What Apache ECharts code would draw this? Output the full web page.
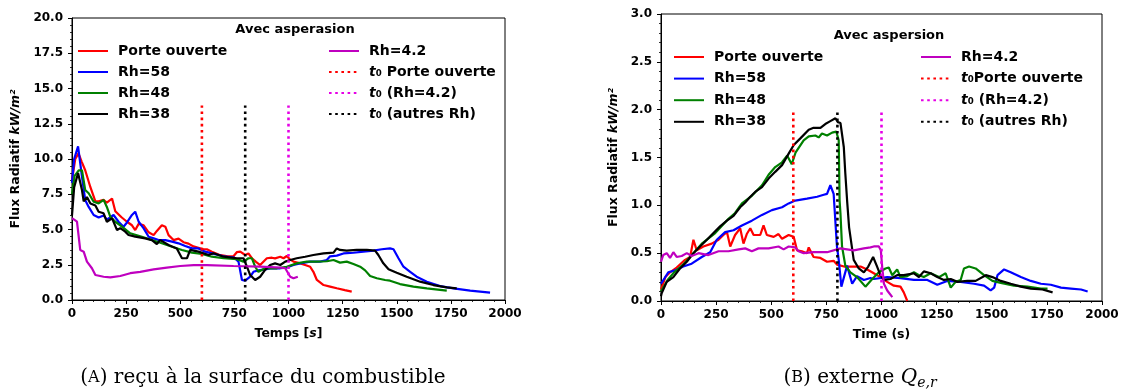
<!DOCTYPE html>
<html><head><meta charset="utf-8">
<script src="https://cdn.jsdelivr.net/npm/echarts@6/dist/echarts.min.js"></script>
<style>html,body{margin:0;padding:0;background:#fff;width:1123px;height:392px;overflow:hidden}
#a{position:absolute;left:0;top:0;width:561px;height:392px}
#b{position:absolute;left:561px;top:0;width:562px;height:392px}</style>
</head><body><div id="a"></div><div id="b"></div>
<script>
// ---------- data (time s, flux kW/m2) ----------
const A_porte = [[0,8.5],[15,10.0],[30,10.4],[45,9.8],[61,9.2],[85,8.0],[108,7.0],[123,7.0],[146,7.1],[161,6.9],[185,7.2],[200,6.3],[230,5.85],[254,5.55],[277,5.3],[292,4.96],[308,5.4],[331,5.3],[354,4.8],[377,4.6],[392,4.9],[415,5.3],[431,5.2],[446,4.6],[469,4.25],[492,4.35],[515,4.1],[538,4.0],[561,3.8],[584,3.7],[607,3.6],[623,3.6],[646,3.43],[680,3.2],[720,3.1],[746,3.1],[762,3.4],[777,3.43],[800,3.19],[815,3.3],[831,2.96],[850,2.7],[869,2.48],[900,2.96],[923,3.0],[938,2.95],[962,3.07],[977,2.96],[992,3.12],[1005,2.9],[1023,2.72],[1054,2.6],[1077,2.48],[1100,2.36],[1115,2.0],[1131,1.42],[1162,1.06],[1192,0.95],[1223,0.83],[1260,0.7],[1292,0.59]];
const A_rh58 = [[0,8.3],[10,10.0],[28,10.9],[46,8.75],[61,7.1],[77,6.6],[100,6.03],[123,5.85],[146,6.0],[161,5.7],[192,6.03],[215,5.55],[238,5.2],[254,5.5],[277,6.03],[292,6.26],[308,5.55],[331,5.08],[354,4.49],[377,4.37],[400,4.25],[431,4.25],[462,4.14],[492,4.02],[523,3.83],[554,3.66],[584,3.66],[615,3.43],[646,3.31],[700,3.1],[750,3.0],[769,2.72],[777,2.6],[785,1.42],[800,1.37],[823,1.65],[838,2.0],[861,2.1],[892,2.17],[923,2.25],[962,2.25],[992,2.3],[1023,2.48],[1054,2.6],[1100,2.72],[1146,2.72],[1177,2.84],[1192,3.1],[1223,3.15],[1254,3.3],[1300,3.35],[1346,3.43],[1392,3.5],[1431,3.6],[1469,3.66],[1485,3.6],[1508,2.96],[1531,2.36],[1562,2.0],[1592,1.65],[1639,1.3],[1700,0.99],[1762,0.83],[1839,0.66],[1931,0.52]];
const A_rh48 = [[0,7.5],[12,8.8],[31,9.2],[46,9.2],[61,7.8],[77,7.57],[100,6.97],[123,6.85],[146,7.1],[161,6.6],[177,5.9],[200,5.55],[231,5.2],[269,4.73],[323,4.49],[369,4.25],[415,4.02],[462,3.78],[508,3.55],[554,3.36],[600,3.26],[646,3.07],[700,2.96],[762,2.9],[792,2.72],[815,2.96],[831,2.96],[846,2.36],[861,2.0],[885,2.2],[915,2.25],[946,2.25],[992,2.36],[1038,2.6],[1085,2.72],[1131,2.72],[1177,2.75],[1208,2.84],[1238,2.65],[1269,2.72],[1300,2.55],[1331,2.36],[1354,2.1],[1377,1.7],[1408,1.54],[1446,1.42],[1469,1.37],[1515,1.13],[1577,0.95],[1639,0.83],[1731,0.66]];
const A_rh38 = [[0,6.0],[10,8.0],[28,9.0],[46,7.8],[54,7.0],[69,7.3],[85,6.85],[108,6.7],[123,6.26],[146,6.15],[161,5.55],[185,5.8],[208,4.96],[223,5.1],[246,4.85],[261,4.61],[292,4.49],[338,4.37],[369,4.25],[392,3.97],[408,4.25],[446,3.9],[484,3.66],[508,2.96],[531,2.96],[546,3.55],[584,3.43],[631,3.19],[654,3.31],[700,3.07],[762,2.96],[792,2.96],[808,2.36],[823,1.77],[846,1.42],[869,1.65],[892,2.13],[915,2.48],[938,2.6],[962,2.48],[985,2.72],[1008,2.84],[1038,2.96],[1077,3.07],[1115,3.19],[1162,3.31],[1208,3.36],[1223,3.66],[1238,3.55],[1269,3.5],[1315,3.55],[1362,3.55],[1400,3.5],[1415,3.19],[1438,2.6],[1462,2.18],[1500,1.94],[1546,1.65],[1608,1.3],[1669,1.06],[1731,0.9],[1777,0.83]];
const A_rh42 = [[0,5.8],[10,5.7],[23,5.55],[38,3.55],[54,3.43],[69,2.72],[92,2.25],[108,1.77],[146,1.65],[177,1.6],[223,1.7],[269,1.9],[315,2.0],[377,2.17],[438,2.3],[500,2.41],[562,2.48],[623,2.48],[746,2.41],[869,2.36],[962,2.3],[985,2.25],[1008,1.65],[1023,1.54],[1043,1.65]];

const B_porte = [[0,0.12],[20,0.25],[41,0.3],[71,0.35],[109,0.43],[132,0.46],[147,0.64],[162,0.53],[192,0.57],[230,0.6],[261,0.64],[283,0.69],[299,0.72],[314,0.57],[336,0.69],[359,0.76],[374,0.6],[389,0.7],[405,0.76],[420,0.69],[450,0.69],[465,0.79],[480,0.69],[511,0.67],[533,0.7],[549,0.65],[579,0.69],[602,0.67],[617,0.53],[639,0.52],[662,0.5],[670,0.56],[692,0.46],[723,0.45],[753,0.41],[783,0.42],[798,0.38],[830,0.36],[905,0.36],[935,0.33],[965,0.29],[995,0.25],[1026,0.2],[1056,0.16],[1086,0.15],[1101,0.09],[1117,0.0]];
const B_rh58 = [[0,0.18],[33,0.3],[64,0.32],[101,0.36],[139,0.39],[185,0.46],[223,0.51],[253,0.64],[291,0.72],[329,0.74],[367,0.79],[412,0.84],[458,0.9],[503,0.95],[549,0.98],[579,1.02],[609,1.05],[662,1.07],[708,1.09],[738,1.11],[753,1.12],[768,1.21],[783,1.12],[798,0.57],[806,0.43],[818,0.15],[844,0.37],[867,0.18],[889,0.26],[920,0.22],[950,0.24],[965,0.23],[1026,0.25],[1086,0.24],[1147,0.22],[1208,0.22],[1253,0.17],[1298,0.21],[1359,0.2],[1420,0.18],[1465,0.16],[1495,0.11],[1511,0.14],[1526,0.27],[1556,0.33],[1586,0.3],[1632,0.25],[1677,0.21],[1723,0.18],[1768,0.17],[1814,0.14],[1859,0.13],[1905,0.12],[1935,0.1]];
const B_rh48 = [[0,0.1],[30,0.22],[60,0.3],[100,0.38],[140,0.48],[185,0.6],[246,0.71],[306,0.86],[336,0.92],[367,1.02],[412,1.1],[458,1.21],[488,1.32],[518,1.4],[549,1.45],[572,1.52],[593,1.43],[610,1.55],[647,1.68],[670,1.72],[700,1.73],[715,1.71],[730,1.75],[753,1.73],[776,1.76],[795,1.77],[806,1.68],[810,1.05],[814,0.91],[821,0.57],[836,0.37],[859,0.3],[889,0.25],[927,0.15],[958,0.23],[988,0.3],[1018,0.34],[1033,0.35],[1049,0.27],[1071,0.33],[1086,0.25],[1117,0.26],[1147,0.3],[1170,0.27],[1192,0.25],[1223,0.29],[1261,0.25],[1291,0.29],[1314,0.14],[1336,0.2],[1359,0.22],[1374,0.34],[1397,0.36],[1427,0.34],[1465,0.27],[1503,0.21],[1541,0.19],[1601,0.16],[1662,0.15],[1723,0.13],[1753,0.13]];
const B_rh38 = [[0,0.05],[3,0.08],[26,0.2],[56,0.25],[86,0.34],[117,0.41],[147,0.5],[177,0.57],[208,0.64],[238,0.71],[268,0.78],[299,0.84],[329,0.89],[359,0.98],[382,1.03],[405,1.09],[427,1.14],[458,1.19],[488,1.28],[518,1.35],[549,1.42],[579,1.54],[602,1.63],[632,1.7],[670,1.79],[692,1.81],[723,1.81],[745,1.85],[768,1.88],[791,1.91],[802,1.87],[814,1.86],[829,1.61],[836,1.33],[844,1.05],[853,0.77],[874,0.43],[897,0.34],[920,0.3],[940,0.36],[962,0.46],[980,0.36],[995,0.27],[1011,0.22],[1041,0.23],[1071,0.27],[1101,0.27],[1147,0.29],[1170,0.25],[1192,0.31],[1223,0.29],[1253,0.25],[1283,0.22],[1314,0.23],[1344,0.2],[1389,0.21],[1427,0.21],[1473,0.27],[1503,0.25],[1541,0.21],[1586,0.18],[1632,0.15],[1677,0.13],[1730,0.12],[1776,0.09]];
const B_rh42 = [[0,0.41],[10,0.48],[26,0.5],[41,0.45],[56,0.51],[71,0.46],[94,0.47],[117,0.5],[139,0.47],[170,0.5],[215,0.48],[261,0.52],[306,0.52],[352,0.54],[382,0.55],[412,0.52],[442,0.55],[488,0.55],[533,0.57],[556,0.54],[579,0.57],[609,0.56],[624,0.52],[647,0.5],[692,0.51],[753,0.51],[814,0.55],[874,0.53],[920,0.55],[950,0.56],[965,0.57],[988,0.57],[997,0.53],[1003,0.36],[1011,0.18],[1026,0.11],[1049,0.04]];

// t0 instants (s) and top of the vertical markers
const t0_porte = 600, t0_rh42 = 1000, t0_autres = 800;
const topA = 13.8, topB = 2.0;

const namesA = ['Porte ouverte','Rh=58','Rh=48','Rh=38','Rh=4.2','t0 Porte ouverte','t0 (Rh=4.2)','t0 (autres Rh)'];
const namesB = ['Porte ouverte','Rh=58','Rh=48','Rh=38','Rh=4.2','t0Porte ouverte','t0 (Rh=4.2)','t0 (autres Rh)'];

// ---------- styling ----------
const F = 'DejaVu Sans';
const SERIF = 'DejaVu Serif';
const COLORS = ['#ff0000','#0000ff','#008000','#000000','#bf00bf','#ff0000','#e600e6','#000000'];

function lineSeries(name, data, color){
  return {name, type:'line', data, symbol:'none', showSymbol:false, animation:false,
    lineStyle:{color, width:2.2}, itemStyle:{color}};
}
function vSeries(name, t, top, color){
  return {name, type:'line', data:[[t,0],[t,top]], symbol:'none', showSymbol:false, animation:false,
    lineStyle:{color, width:2.6, type:[2.6,3.6]}, itemStyle:{color}, z:3};
}
function legendFmt(n){
  if (n.startsWith('t0')) return '{it|t}{b|\u2080' + n.slice(2) + '}';
  return '{b|' + n + '}';
}
const legendRich = {
  b:{fontFamily:F, fontWeight:'bold', fontSize:14, color:'#000'},
  it:{fontFamily:F, fontWeight:'bold', fontStyle:'italic', fontSize:14, color:'#000'}
};
function legend(left, top, data, gap){
  return {left, top, orient:'vertical', itemWidth:30, itemHeight:14, itemGap:gap, data,
    formatter:legendFmt, selectedMode:false, itemStyle:{opacity:0, borderWidth:0},
    textStyle:{fontFamily:F, fontWeight:'bold', fontSize:14, color:'#000', lineHeight:14, padding:[0,0,0,5], rich:legendRich}};
}
function axisCommon(){
  return {
    axisLine:{show:true, lineStyle:{color:'#000', width:1}},
    axisTick:{show:true, inside:false, length:4, lineStyle:{color:'#000', width:1}},
    minorTick:{show:true, splitNumber:5, length:2, lineStyle:{color:'#000', width:0.8}},
    splitLine:{show:false},
    axisLabel:{fontFamily:F, fontWeight:'bold', fontSize:12, color:'#000', margin:8, formatter: v => String(v)}
  };
}
const nameRich = {
  b:{fontFamily:F, fontWeight:'bold', fontSize:12.5, color:'#000'},
  i:{fontFamily:F, fontWeight:'bold', fontStyle:'italic', fontSize:12.5, color:'#000'}
};
const capRich = {
  n:{fontFamily:SERIF, fontWeight:'normal', fontSize:20, color:'#000', lineHeight:24},
  sc:{fontFamily:SERIF, fontWeight:'normal', fontSize:16, color:'#000', lineHeight:24},
  q:{fontFamily:SERIF, fontWeight:'normal', fontStyle:'italic', fontSize:20, color:'#000', lineHeight:24},
  sub:{fontFamily:SERIF, fontWeight:'normal', fontStyle:'italic', fontSize:14, color:'#000', lineHeight:14, verticalAlign:'bottom'}
};

function buildOption(cfg){
  const s = [
    lineSeries(cfg.names[0], cfg.data[0], COLORS[0]),
    lineSeries(cfg.names[1], cfg.data[1], COLORS[1]),
    lineSeries(cfg.names[2], cfg.data[2], COLORS[2]),
    lineSeries(cfg.names[3], cfg.data[3], COLORS[3]),
    lineSeries(cfg.names[4], cfg.data[4], COLORS[4]),
    vSeries(cfg.names[5], t0_porte, cfg.top, COLORS[5]),
    vSeries(cfg.names[6], t0_rh42, cfg.top, COLORS[6]),
    vSeries(cfg.names[7], t0_autres, cfg.top, COLORS[7])
  ];
  const xa = Object.assign(axisCommon(), {type:'value', min:0, max:2000, interval:250,
    name:cfg.xname, nameLocation:'middle', nameGap:27, nameTextStyle:{rich:nameRich}});
  const ya = Object.assign(axisCommon(), {type:'value', min:0, max:cfg.ymax, interval:cfg.yint,
    name:'{b|Flux Radiatif }{i|kW/m\u00b2}', nameLocation:'middle', nameGap:cfg.ygap, nameRotate:90,
    nameTextStyle:{rich:nameRich}});
  ya.axisLabel.formatter = v => v.toFixed(1);
  ya.axisLabel.margin = 9;
  return {
    backgroundColor:'#fff', animation:false,
    grid:{left:cfg.grid[0], top:cfg.grid[1], width:cfg.grid[2], height:cfg.grid[3], show:true, borderColor:'#000', borderWidth:1, containLabel:false},
    xAxis:xa, yAxis:ya,
    legend:[legend(cfg.leg1[0], cfg.leg1[1], cfg.names.slice(0,4), cfg.lgap), legend(cfg.leg2[0], cfg.leg2[1], cfg.names.slice(4), cfg.lgap)],
    title:[
      {text:cfg.ltitle, left:cfg.ltpos[0], top:cfg.ltpos[1], textAlign:'center', textStyle:{fontFamily:F, fontWeight:'bold', fontSize:13, color:'#000'}},
      {text:cfg.caption, left:cfg.cap[0], top:cfg.cap[1], textAlign:'center', textStyle:{fontWeight:'normal', rich:capRich}}
    ],
    series:s
  };
}

const chartA = echarts.init(document.getElementById('a'), null, {renderer:'canvas'});
chartA.setOption(buildOption({
  names:namesA, data:[A_porte,A_rh58,A_rh48,A_rh38,A_rh42], top:topA,
  ymax:20, yint:2.5, ygap:45, grid:[72,18,433,282],
  xname:'{b|Temps [}{i|s}{b|]}',
  leg1:[72,39], leg2:[323,39], lgap:7,
  ltitle:'Avec asperasion', ltpos:[290,18],
  caption:'{n|(}{sc|A}{n|) reçu à la surface du combustible}', cap:[258,361]
}));
const chartB = echarts.init(document.getElementById('b'), null, {renderer:'canvas'});
chartB.setOption(buildOption({
  names:namesB, data:[B_porte,B_rh58,B_rh48,B_rh38,B_rh42], top:topB,
  ymax:3, yint:0.5, ygap:35, grid:[100,14,441,287],
  xname:'{b|Time (s)}',
  leg1:[107,45], leg2:[354,45], lgap:7.6,
  ltitle:'Avec aspersion', ltpos:[323,24],
  caption:'{n|(}{sc|B}{n|) externe }{q|Q}{sub|e,r}', cap:[294,361]
}));
</script></body></html>
